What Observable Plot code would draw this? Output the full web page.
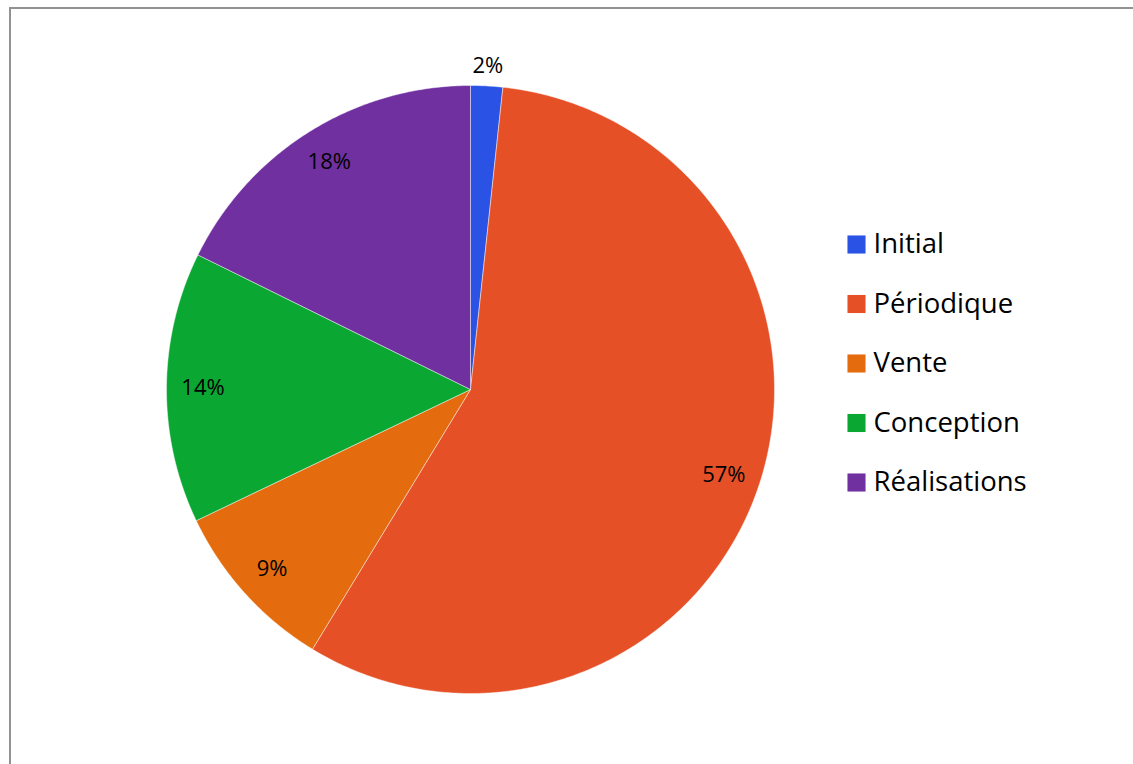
<!DOCTYPE html>
<html>
<head>
<meta charset="utf-8">
<script src="https://cdn.jsdelivr.net/npm/d3@7"></script>
<script src="https://cdn.jsdelivr.net/npm/@observablehq/plot@0.6"></script>
<style>
  html, body { margin: 0; padding: 0; background: #fff; overflow: hidden; }
  #wrap { position: relative; width: 1133px; height: 764px; }
  #frame { position: absolute; left: 9px; top: 7px; width: 1200px; height: 800px; border: 2px solid #929292; box-sizing: border-box; }
  #chart { position: absolute; left: 0; top: 0; }
</style>
</head>
<body>
<div id="wrap"><div id="frame"></div><div id="chart"></div></div>
<script>
const categories = ["Initial", "Périodique", "Vente", "Conception", "Réalisations"];
const values = [1.7, 57.0, 9.2, 14.4, 17.7];
const colors = ["#2a53e6", "#e65027", "#e46c0e", "#0aa832", "#7030a0"];

const W = 1133, H = 764;
const cx = 470, cy = 389, R = 304;

const data = categories.map((name, i) => ({name, value: values[i]}));
const pie = d3.pie().value(d => d.value).sort(null)(data);

// slice outlines built from the pie angles
const polys = [];
pie.forEach(a => {
  polys.push({name: a.data.name, x: cx, y: cy});
  const n = Math.max(2, Math.ceil((a.endAngle - a.startAngle) / (Math.PI / 360)));
  for (let k = 0; k <= n; k++) {
    const t = a.startAngle + (a.endAngle - a.startAngle) * k / n;
    polys.push({name: a.data.name, x: cx + R * Math.sin(t), y: cy - R * Math.cos(t)});
  }
  polys.push({name: a.data.name, x: cx, y: cy});
});

const total = d3.sum(values);
const labels = pie.map(a => {
  const m = (a.startAngle + a.endAngle) / 2;
  const r = a.data.value / total < 0.05 ? R + 20 : R * 0.88;
  return {label: Math.round(a.data.value / total * 100) + "%", x: cx + r * Math.sin(m), y: cy - r * Math.cos(m)};
});

const legend = categories.map((name, i) => ({name, x: 856, y: 244 + i * 59.5}));

const chart = Plot.plot({
  width: W, height: H,
  margin: 0,
  style: {fontFamily: "'Open Sans', 'Noto Sans', sans-serif", background: "transparent"},
  x: {domain: [0, W], range: [0, W], axis: null},
  y: {domain: [0, H], range: [0, H], axis: null},
  color: {domain: categories, range: colors},
  marks: [
    Plot.line(polys, {x: "x", y: "y", z: "name", fill: "name", stroke: "#ffffff", strokeOpacity: 0.45, strokeWidth: 1, curve: "linear"}),
    Plot.text(labels, {x: "x", y: "y", text: "label", fontSize: 22, fill: "#000"}),
    Plot.dot(legend, {x: "x", y: "y", symbol: "square", r: 10.2, fill: "name", stroke: null}),
    Plot.text(legend, {x: d => d.x + 17, y: "y", text: "name", textAnchor: "start", fontSize: 27.5, fill: "#000"})
  ]
});
document.getElementById("chart").appendChild(chart);
</script>
</body>
</html>
